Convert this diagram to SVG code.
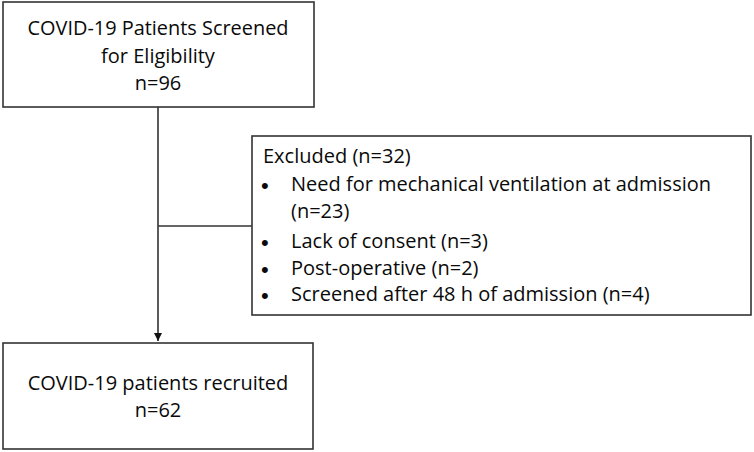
<svg xmlns="http://www.w3.org/2000/svg" width="754" height="452" viewBox="0 0 754 452">
<style>
.box{fill:#fff;stroke:#333;stroke-width:1.6}
.t{font-family:"Open Sans","Liberation Sans",sans-serif;font-size:20px;fill:#0a0a0a}
.b{font-family:"Liberation Sans",sans-serif;font-size:22px;fill:#0a0a0a}
.c{text-anchor:middle}
.ln{stroke:#333;stroke-width:1.6;fill:none}
</style>
<defs>
<marker id="ah" markerWidth="10" markerHeight="10" refX="8" refY="4" orient="auto" markerUnits="userSpaceOnUse">
<path d="M0,0 L8,4 L0,8 Z" fill="#111"/>
</marker>
</defs>
<rect width="754" height="452" fill="#fff"/>
<g id="connectors">
<path class="ln" d="M158,107 V341" marker-end="url(#ah)"/>
<path class="ln" d="M158,226 H252"/>
</g>
<g id="screened">
<rect class="box" x="3" y="2" width="311" height="105"/>
<text class="t c" x="158" y="35" textLength="261" lengthAdjust="spacingAndGlyphs">COVID-19 Patients Screened</text>
<text class="t c" x="158" y="63">for Eligibility</text>
<text class="t c" x="158" y="90">n=96</text>
</g>
<g id="excluded">
<rect class="box" x="252" y="136" width="499" height="179"/>
<text class="t" x="263" y="163">Excluded (n=32)</text>
<text class="b" x="261" y="193">•</text>
<text class="t" x="291" y="191" textLength="420" lengthAdjust="spacingAndGlyphs">Need for mechanical ventilation at admission</text>
<text class="t" x="291" y="218">(n=23)</text>
<text class="b" x="261" y="250">•</text>
<text class="t" x="291" y="248">Lack of consent (n=3)</text>
<text class="b" x="261" y="277">•</text>
<text class="t" x="291" y="275">Post-operative (n=2)</text>
<text class="b" x="261" y="303">•</text>
<text class="t" x="291" y="301">Screened after 48 h of admission (n=4)</text>
</g>
<g id="recruited">
<rect class="box" x="3" y="343" width="310" height="106"/>
<text class="t c" x="158" y="390">COVID-19 patients recruited</text>
<text class="t c" x="158" y="417">n=62</text>
</g>
</svg>
